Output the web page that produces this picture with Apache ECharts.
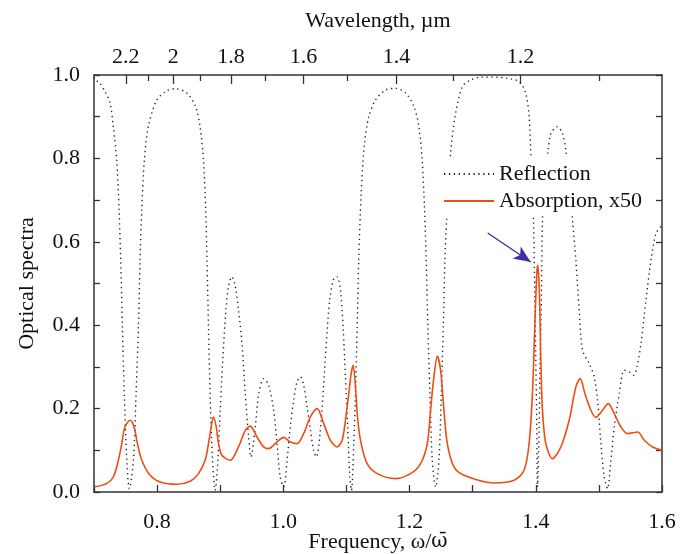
<!DOCTYPE html>
<html>
<head>
<meta charset="utf-8">
<script src="https://cdn.jsdelivr.net/npm/echarts@6/dist/echarts.min.js"></script>
<style>html,body{margin:0;padding:0;background:#fff;}#c{width:688px;height:554px;}</style>
</head>
<body>
<div id="c"></div>
<script>
// ---- data ----
const reflection = [
[0.700,0.995],[0.7016,0.989],[0.7095,0.98],[0.7175,0.96],[0.7254,0.933],[0.7306,0.876],[0.736,0.796],[0.7397,0.677],[0.7423,0.556],
[0.745,0.396],[0.748,0.236],[0.752,0.076],[0.756,0.008],[0.7624,0.076],[0.7667,0.236],[0.7704,0.396],[0.773,0.556],
[0.7757,0.677],[0.7798,0.796],[0.786,0.876],[0.7995,0.940],[0.815,0.962],[0.8286,0.967],[0.847,0.957],[0.861,0.924],
[0.868,0.876],[0.8735,0.796],[0.877,0.677],[0.879,0.556],[0.8814,0.396],[0.884,0.236],[0.8878,0.076],[0.892,0.004],
[0.8963,0.076],[0.900,0.196],[0.904,0.316],[0.909,0.436],[0.913,0.492],[0.9185,0.516],[0.924,0.492],[0.929,0.436],
[0.9344,0.356],[0.9397,0.236],[0.945,0.132],[0.9487,0.084],[0.9556,0.156],[0.961,0.236],[0.9688,0.272],[0.9767,0.256],
[0.9846,0.196],[0.990,0.116],[0.995,0.036],[1.0005,0.012],[1.006,0.076],[1.011,0.156],[1.0164,0.22],[1.0217,0.264],
[1.027,0.276],[1.0323,0.256],[1.0376,0.204],[1.043,0.148],[1.048,0.1],[1.0524,0.084],[1.0576,0.132],[1.063,0.236],
[1.068,0.356],[1.0735,0.46],[1.0799,0.512],[1.0852,0.516],[1.0905,0.484],[1.0947,0.396],[1.0984,0.276],[1.102,0.156],
[1.1053,0.036],[1.108,0.004],[1.1116,0.116],[1.1143,0.236],[1.117,0.396],[1.1195,0.556],[1.1233,0.716],[1.1286,0.836],
[1.1354,0.90],[1.146,0.94],[1.1619,0.964],[1.1778,0.968],[1.1937,0.957],[1.207,0.924],[1.2148,0.876],[1.220,0.796],
[1.2238,0.677],[1.2264,0.556],[1.229,0.396],[1.2323,0.236],[1.236,0.076],[1.2413,0.012],[1.2466,0.076],[1.2503,0.236],
[1.2535,0.396],[1.256,0.556],[1.2587,0.652],[1.262,0.74],[1.2651,0.813],[1.272,0.90],[1.2836,0.972],[1.2968,0.988],
[1.3127,0.995],[1.3338,0.995],[1.355,0.992],[1.3735,0.984],[1.384,0.957],[1.3894,0.90],[1.392,0.816],[1.3963,0.652],
[1.3984,0.476],[1.400,0.316],[1.4016,0.156],[1.4027,0.012],[1.4053,0.156],[1.4069,0.316],[1.409,0.476],[1.4106,0.652],
[1.414,0.76],[1.4196,0.82],[1.4238,0.86],[1.4344,0.876],[1.4423,0.86],[1.4476,0.82],[1.453,0.74],[1.4582,0.652],
[1.4635,0.556],[1.4688,0.436],[1.4741,0.34],[1.4846,0.308],[1.4926,0.276],[1.4979,0.22],[1.5032,0.116],[1.5085,0.036],
[1.5138,0.008],[1.519,0.076],[1.5243,0.156],[1.5323,0.236],[1.5402,0.292],[1.548,0.288],[1.555,0.28],[1.5603,0.3],
[1.5667,0.356],[1.5746,0.46],[1.5825,0.556],[1.5905,0.62],[1.600,0.64]
];
const absorption = [
[0.700,0.012],[0.720,0.02],[0.7306,0.036],[0.7386,0.076],[0.744,0.116],[0.749,0.156],[0.757,0.172],[0.7635,0.156],
[0.7688,0.116],[0.7757,0.076],[0.7889,0.04],[0.8048,0.024],[0.8312,0.0185],[0.8524,0.026],[0.8656,0.044],[0.876,0.076],
[0.8814,0.116],[0.8857,0.156],[0.8894,0.18],[0.8937,0.156],[0.8973,0.116],[0.9027,0.088],[0.9159,0.076],[0.929,0.108],
[0.9397,0.148],[0.9476,0.158],[0.9582,0.132],[0.9688,0.108],[0.9767,0.104],[0.990,0.12],[1.0005,0.131],[1.0111,0.12],
[1.0217,0.116],[1.0322,0.14],[1.0429,0.18],[1.0535,0.2],[1.064,0.164],[1.0746,0.124],[1.0852,0.108],[1.0932,0.124],
[1.0984,0.172],[1.1037,0.236],[1.1074,0.284],[1.1106,0.304],[1.1143,0.252],[1.118,0.172],[1.1233,0.116],[1.1328,0.068],
[1.1487,0.044],[1.1778,0.032],[1.2016,0.044],[1.2175,0.068],[1.2281,0.116],[1.2333,0.196],[1.2386,0.276],[1.244,0.326],
[1.2492,0.292],[1.2545,0.196],[1.2598,0.116],[1.2704,0.06],[1.2862,0.04],[1.3338,0.0216],[1.3656,0.028],[1.3815,0.052],
[1.3894,0.116],[1.3947,0.236],[1.3984,0.396],[1.4016,0.524],[1.4032,0.544],[1.4058,0.476],[1.408,0.316],[1.4106,0.196],
[1.4159,0.116],[1.4265,0.08],[1.4397,0.108],[1.4529,0.172],[1.4635,0.252],[1.4704,0.272],[1.4778,0.236],[1.4873,0.196],
[1.4952,0.179],[1.5058,0.196],[1.5148,0.212],[1.5243,0.188],[1.5349,0.156],[1.5455,0.14],[1.5614,0.144],[1.5719,0.124],
[1.5852,0.108],[1.600,0.10]
];
const seriesNames = ['Reflection', 'Absorption, x50'];
const wavelengthMajor = [2.2, 2.0, 1.8, 1.6, 1.4, 1.2];   // µm, labelled
const wavelengthMinor = [2.1, 1.9, 1.7, 1.5, 1.3, 1.1];   // µm, unlabelled
const wavelengthConst = 1.651;                           // λ(µm) = const / (ω/ω̄)
const arrowFrom = [1.3238, 0.621];
const arrowTo = [1.392, 0.5515];

// ---- chart ----
const FONT = '"Liberation Serif", "DejaVu Serif", serif';
const FS = 22;
const TXT = '#111';
const AX = '#333';
const toFreq = l => wavelengthConst / l;
const fmtLambda = v => {
  let best = wavelengthMajor[0];
  wavelengthMajor.forEach(l => { if (Math.abs(toFreq(l) - v) < Math.abs(toFreq(best) - v)) best = l; });
  return String(best);
};

const chart = echarts.init(document.getElementById('c'), null, {renderer: 'canvas'});
chart.setOption({
  animation: false,
  backgroundColor: '#fff',
  grid: {left: 94, right: 26, top: 75, bottom: 62, containLabel: false, outerBoundsMode: 'none'},
  legend: {
    orient: 'vertical', left: 438, top: 157,
    itemWidth: 50, itemHeight: 14, itemGap: 5,
    backgroundColor: '#fff', padding: [6, 6, 4, 5],
    itemStyle: {opacity: 0},
    textStyle: {fontFamily: FONT, fontSize: FS, color: TXT},
    data: seriesNames
  },
  xAxis: [
    {
      type: 'value', min: 0.7, max: 1.6, interval: 0.1, position: 'bottom',
      name: '{a|Frequency, ω/}{b|ω\u0304}', nameLocation: 'middle', nameGap: 39, nameMoveOverlap: false,
      nameTextStyle: {fontFamily: FONT, fontSize: FS, color: TXT,
        rich: {a: {fontFamily: FONT, fontSize: FS, color: TXT},
               b: {fontFamily: '"DejaVu Serif", serif', fontSize: FS - 2, color: TXT}}},
      axisLine: {show: true, onZero: false, lineStyle: {color: AX, width: 1.5}},
      axisTick: {show: true, inside: true, length: 7, lineStyle: {color: AX, width: 1.3}},
      axisLabel: {margin: 19, fontFamily: FONT, fontSize: FS, color: TXT,
        formatter: v => (Math.round(v * 10) % 2 === 0 ? v.toFixed(1) : '')},
      splitLine: {show: false}
    },
    {
      type: 'value', min: 0.7, max: 1.6, position: 'top',
      name: 'Wavelength, µm', nameLocation: 'middle', nameGap: 43, nameMoveOverlap: false,
      nameTextStyle: {fontFamily: FONT, fontSize: FS, color: TXT},
      axisLine: {show: true, onZero: false, lineStyle: {color: AX, width: 1.5}},
      axisTick: {show: true, inside: true, length: 9, customValues: wavelengthMajor.map(toFreq), lineStyle: {color: AX, width: 1.3}},
      axisLabel: {show: true, margin: 7, fontFamily: FONT, fontSize: FS, color: TXT,
        customValues: wavelengthMajor.map(toFreq), formatter: fmtLambda},
      splitLine: {show: false}
    },
    {
      type: 'value', min: 0.7, max: 1.6, position: 'top',
      axisLine: {show: false, onZero: false},
      axisTick: {show: true, inside: true, length: 6, customValues: wavelengthMinor.map(toFreq), lineStyle: {color: AX, width: 1.3}},
      axisLabel: {show: false},
      splitLine: {show: false}
    }
  ],
  yAxis: [
    {
      type: 'value', min: 0, max: 1, interval: 0.1, position: 'left',
      name: 'Optical spectra', nameLocation: 'middle', nameGap: 56, nameMoveOverlap: false,
      nameTextStyle: {fontFamily: FONT, fontSize: FS, color: TXT},
      axisLine: {show: true, onZero: false, lineStyle: {color: AX, width: 1.5}},
      axisTick: {show: true, inside: true, length: 6, lineStyle: {color: AX, width: 1.3}},
      axisLabel: {margin: 14, fontFamily: FONT, fontSize: FS, color: TXT,
        formatter: v => (Math.round(v * 10) % 2 === 0 ? v.toFixed(1) : '')},
      splitLine: {show: false}
    },
    {
      type: 'value', min: 0, max: 1, interval: 0.1, position: 'right',
      axisLine: {show: true, onZero: false, lineStyle: {color: AX, width: 1.5}},
      axisTick: {show: true, inside: true, length: 6, lineStyle: {color: AX, width: 1.3}},
      axisLabel: {show: false},
      splitLine: {show: false}
    }
  ],
  series: [
    {
      name: seriesNames[0], type: 'line', xAxisIndex: 0, yAxisIndex: 0,
      data: reflection, symbol: 'none', smooth: 0.3, z: 2,
      lineStyle: {color: '#222', width: 1.4, type: [1.3, 3.6]},
      itemStyle: {color: '#222'}
    },
    {
      name: seriesNames[1], type: 'line', xAxisIndex: 0, yAxisIndex: 0,
      data: absorption, symbol: 'none', smooth: 0.3, z: 3,
      lineStyle: {color: '#ef4c12', width: 1.6},
      itemStyle: {color: '#ef4c12'},
      markLine: {
        silent: true, symbol: ['none', 'arrow'], symbolSize: [11, 17],
        label: {show: false},
        lineStyle: {color: '#3b2fa6', width: 1.4, type: 'solid'},
        data: [[{coord: arrowFrom}, {coord: arrowTo}]]
      }
    }
  ]
});
</script>
</body>
</html>
